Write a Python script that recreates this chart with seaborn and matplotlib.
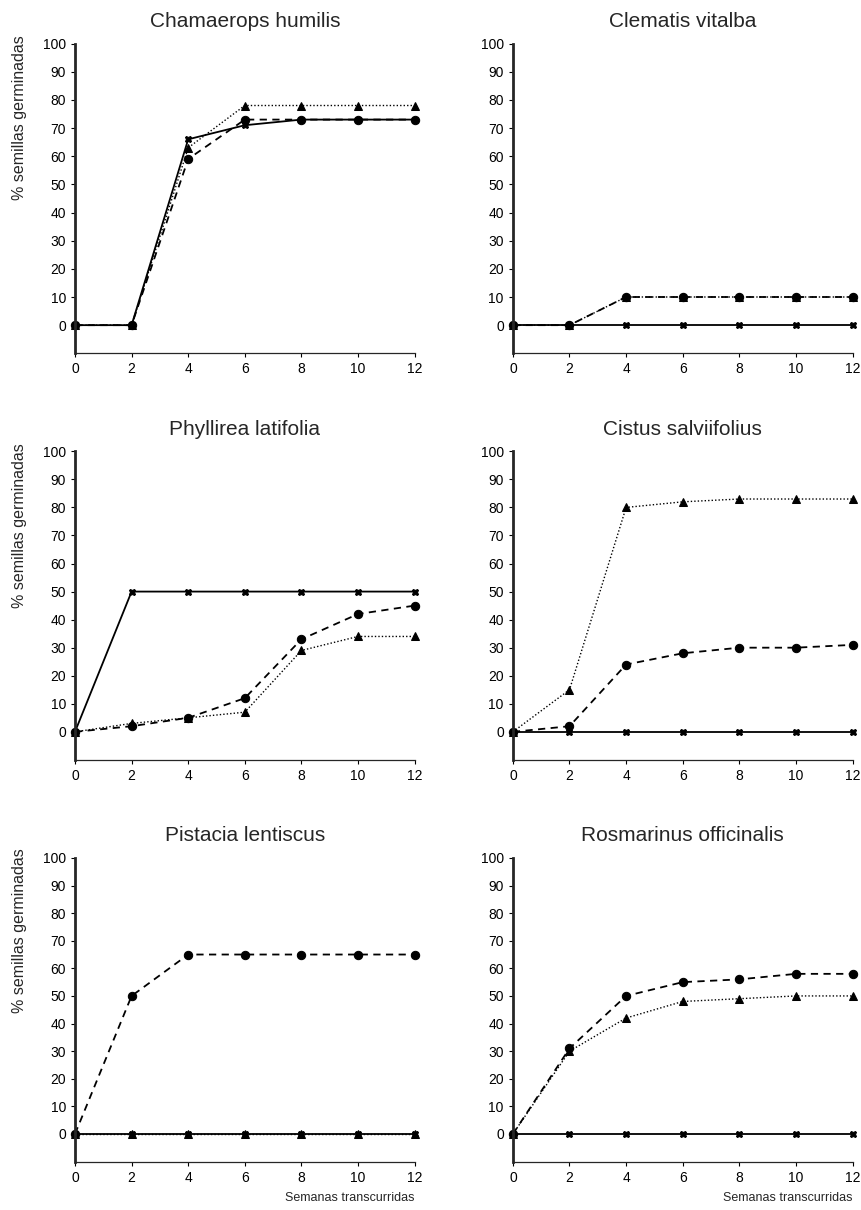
import pandas as pd
import matplotlib.pyplot as plt
import seaborn as sns

# Weeks elapsed
semanas = [0, 2, 4, 6, 8, 10, 12]

# Three treatments per species: circle/dashed, triangle/dotted, x/solid
chamaerops_circ = [0, 0, 59, 73, 73, 73, 73]
chamaerops_tri = [0, 0, 63, 78, 78, 78, 78]
chamaerops_x = [0, 0, 66, 71, 73, 73, 73]

clematis_circ = [0, 0, 10, 10, 10, 10, 10]
clematis_tri = [0, 0, 10, 10, 10, 10, 10]
clematis_x = [0, 0, 0, 0, 0, 0, 0]

phyllirea_circ = [0, 2, 5, 12, 33, 42, 45]
phyllirea_tri = [0, 3, 5, 7, 29, 34, 34]
phyllirea_x = [0, 50, 50, 50, 50, 50, 50]

cistus_circ = [0, 2, 24, 28, 30, 30, 31]
cistus_tri = [0, 15, 80, 82, 83, 83, 83]
cistus_x = [0, 0, 0, 0, 0, 0, 0]

pistacia_circ = [0, 50, 65, 65, 65, 65, 65]
pistacia_tri = [0, 0, 0, 0, 0, 0, 0]
pistacia_x = [0, 0, 0, 0, 0, 0, 0]

rosmarinus_circ = [0, 31, 50, 55, 56, 58, 58]
rosmarinus_tri = [0, 30, 42, 48, 49, 50, 50]
rosmarinus_x = [0, 0, 0, 0, 0, 0, 0]

especies = ["Chamaerops humilis", "Clematis vitalba", "Phyllirea latifolia",
            "Cistus salviifolius", "Pistacia lentiscus", "Rosmarinus officinalis"]
series = {
    "Chamaerops humilis": (chamaerops_circ, chamaerops_tri, chamaerops_x),
    "Clematis vitalba": (clematis_circ, clematis_tri, clematis_x),
    "Phyllirea latifolia": (phyllirea_circ, phyllirea_tri, phyllirea_x),
    "Cistus salviifolius": (cistus_circ, cistus_tri, cistus_x),
    "Pistacia lentiscus": (pistacia_circ, pistacia_tri, pistacia_x),
    "Rosmarinus officinalis": (rosmarinus_circ, rosmarinus_tri, rosmarinus_x),
}
tratamientos = ["circ", "tri", "x"]

rows = []
for sp in especies:
    for trat, vals in zip(tratamientos, series[sp]):
        for s, v in zip(semanas, vals):
            rows.append({"especie": sp, "trat": trat, "semana": s, "pct": v})
df = pd.DataFrame(rows)

sns.set_style("ticks")
plt.rcParams["font.family"] = ["Liberation Sans", "DejaVu Sans"]

fig = plt.figure(figsize=(8.62, 12.10), dpi=100)
lefts = [0.087, 0.595]
bottoms = [0.708, 0.372, 0.040]
heights = [0.256, 0.255, 0.251]
w = 0.394

markers = {"circ": "o", "tri": "^", "x": "X"}
dashes = {"circ": (4, 3), "tri": (1, 1.5), "x": ""}

for i, sp in enumerate(especies):
    r, c = divmod(i, 2)
    ax = fig.add_axes([lefts[c], bottoms[r], w, heights[r]])
    sub = df[df["especie"] == sp]
    # draw x-series first so others sit on top
    for trat in ["x", "tri", "circ"]:
        d = sub[sub["trat"] == trat]
        sns.lineplot(data=d, x="semana", y="pct", ax=ax, color="black",
                     marker=markers[trat], markersize=6 if trat != "x" else 4.5,
                     markeredgecolor="black", linewidth=1.3 if trat != "tri" else 1.0,
                     clip_on=False)
    for ln, trat in zip(ax.get_lines(), ["x", "tri", "circ"]):
        if trat == "x":
            ln.set_linestyle("-")
        else:
            ln.set_dashes(dashes[trat])
    ax.set_xlim(0, 12)
    ax.set_ylim(-10, 100)
    ax.set_xticks(semanas)
    ax.set_yticks(range(0, 101, 10))
    ax.set_title(sp, fontsize=15, pad=12)
    ax.tick_params(labelsize=10, length=3, width=0.8, colors="black")
    sns.despine(ax=ax)
    ax.spines["left"].set_linewidth(2)
    ax.spines["bottom"].set_linewidth(0.9)
    ax.set_xlabel("")
    if c == 0:
        ax.set_ylabel("% semillas germinadas", fontsize=11.5)
        ax.yaxis.set_label_coords(-0.14, 0.76)
    else:
        ax.set_ylabel("")
    if r == 2:
        ax.set_xlabel("Semanas transcurridas", fontsize=9, loc="right", labelpad=5)
    ax.legend_ = None

fig.savefig("out.png", dpi=100)
